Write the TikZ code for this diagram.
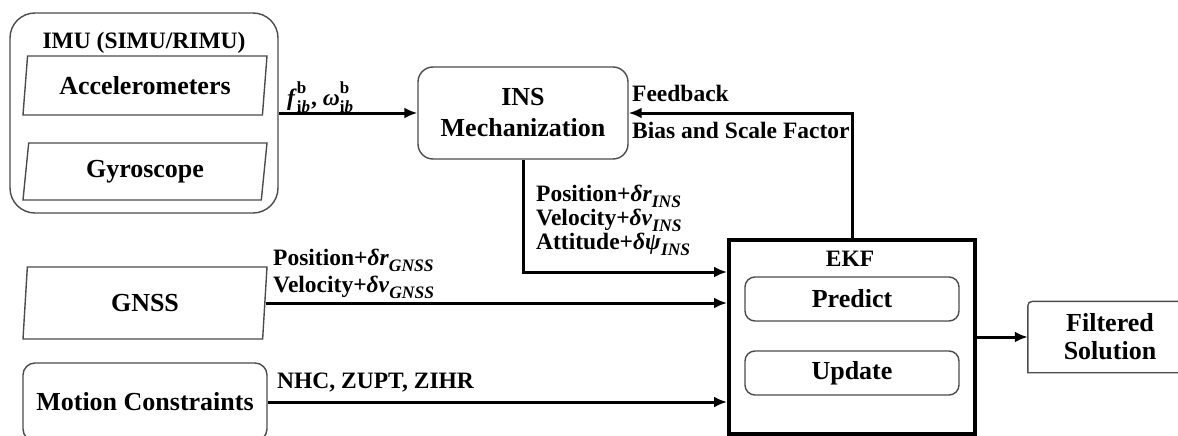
\documentclass[tikz,border=0pt]{standalone}
\usepackage{fontspec}
\setmainfont{Liberation Serif}
\usetikzlibrary{arrows.meta,shapes.geometric}
\newcommand{\bxfont}{\fontsize{26}{30}\selectfont\bfseries}
\newcommand{\lbfont}{\fontsize{23.5}{25}\selectfont\bfseries}
\newcommand{\lsub}[1]{\raisebox{-0.28em}{\fontsize{17.5}{17.5}\selectfont\textit{#1}}}
\newcommand{\supsubx}[2]{\makebox[0pt][l]{\raisebox{0.5em}{\fontsize{17}{17}\selectfont #1}}\raisebox{-0.3em}{\fontsize{17}{17}\selectfont #2}}
\begin{document}
\begin{tikzpicture}[x=1pt,y=-1pt,
  boxline/.style={draw=black!70, line width=1.4pt},
  para/.style={boxline, trapezium, trapezium left angle=76, trapezium right angle=104,
     trapezium stretches body, inner sep=0pt, font=\bxfont},
  rbox/.style={boxline, rounded corners=12pt, inner sep=0pt, align=center, font=\bxfont},
  plain/.style={inner sep=0pt, align=center},
  lbl/.style={inner sep=0pt, anchor=base west, font=\lbfont},
  flow/.style={line width=3pt, -{Latex[length=13pt,width=11pt]}}]
\useasboundingbox (0,0) rectangle (1178,436);

% IMU group
\node[rbox, rounded corners=25pt, minimum width=268pt, minimum height=200pt] (imu) at (144,113) {};
\node[plain, font=\lbfont] (imut) at (144,43) {IMU (SIMU/RIMU)};
\node[para, minimum width=244pt, minimum height=59pt] (acc) at (145,85.5) {Accelerometers};
\node[para, minimum width=244pt, minimum height=57pt] (gyr) at (145,171.5) {Gyroscope};

% INS
\node[rbox, rounded corners=15pt, minimum width=210pt, minimum height=92pt] (ins) at (523,113) {INS\\[1pt]Mechanization};

% GNSS and motion constraints
\node[para, minimum width=244pt, minimum height=72pt] (gnss) at (145,303) {GNSS};
\node[rbox, minimum width=244pt, minimum height=78pt] (mc) at (145,402) {Motion Constraints};

% EKF
\node[draw, line width=3.8pt, minimum width=246pt, minimum height=194pt, inner sep=0pt] (ekf) at (852,337) {};
\node[plain, font=\lbfont] (ekft) at (850,259) {EKF};
\node[rbox, rounded corners=10pt, minimum width=214pt, minimum height=44pt] (pred) at (852,299) {Predict};
\node[rbox, rounded corners=10pt, minimum width=214pt, minimum height=44pt] (upd) at (852,373) {Update};

% Filtered solution
\node[plain, font=\bxfont, minimum width=164pt, minimum height=71pt] (fs) at (1110,337) {Filtered\\[-2pt]Solution};
\draw[boxline] (fs.south east) -- (fs.south west) -- ([yshift=-10pt]fs.north west)
   .. controls (fs.north west) .. ([xshift=10pt]fs.north west) -- (fs.north east);

% connectors
\draw[flow] (imu.east) -- (ins.west);
\draw[flow] (ekf.north) |- (ins.east);
\draw[flow] (ins.south) |- ([yshift=65pt]ekf.west);
\draw[flow] (gnss.east) -- (gnss.east -| ekf.west);
\draw[flow] (mc.east) -- (mc.east -| ekf.west);
\draw[flow] (ekf.east) -- (fs.west);

% labels
\node[lbl] (lf) at (287,105) {\textit{f}\supsubx{b}{i\textit{b}}\kern1pt, \textit{ω}\supsubx{b}{i\textit{b}}};
\node[lbl] (lfb) at (632,101) {Feedback};
\node[lbl] (lbs) at (632,138) {Bias and Scale Factor};
\node[lbl] (lp1) at (536,201) {Position+\textit{δr}\lsub{INS}};
\node[lbl] (lv1) at (536,225) {Velocity+\textit{δv}\lsub{INS}};
\node[lbl] (la1) at (536,249) {Attitude+\textit{δψ}\lsub{INS}};
\node[lbl] (lp2) at (273,265) {Position+\textit{δr}\lsub{GNSS}};
\node[lbl] (lv2) at (273,292) {Velocity+\textit{δv}\lsub{GNSS}};
\node[lbl] (lnhc) at (277,388) {NHC, ZUPT, ZIHR};
\end{tikzpicture}
\end{document}
